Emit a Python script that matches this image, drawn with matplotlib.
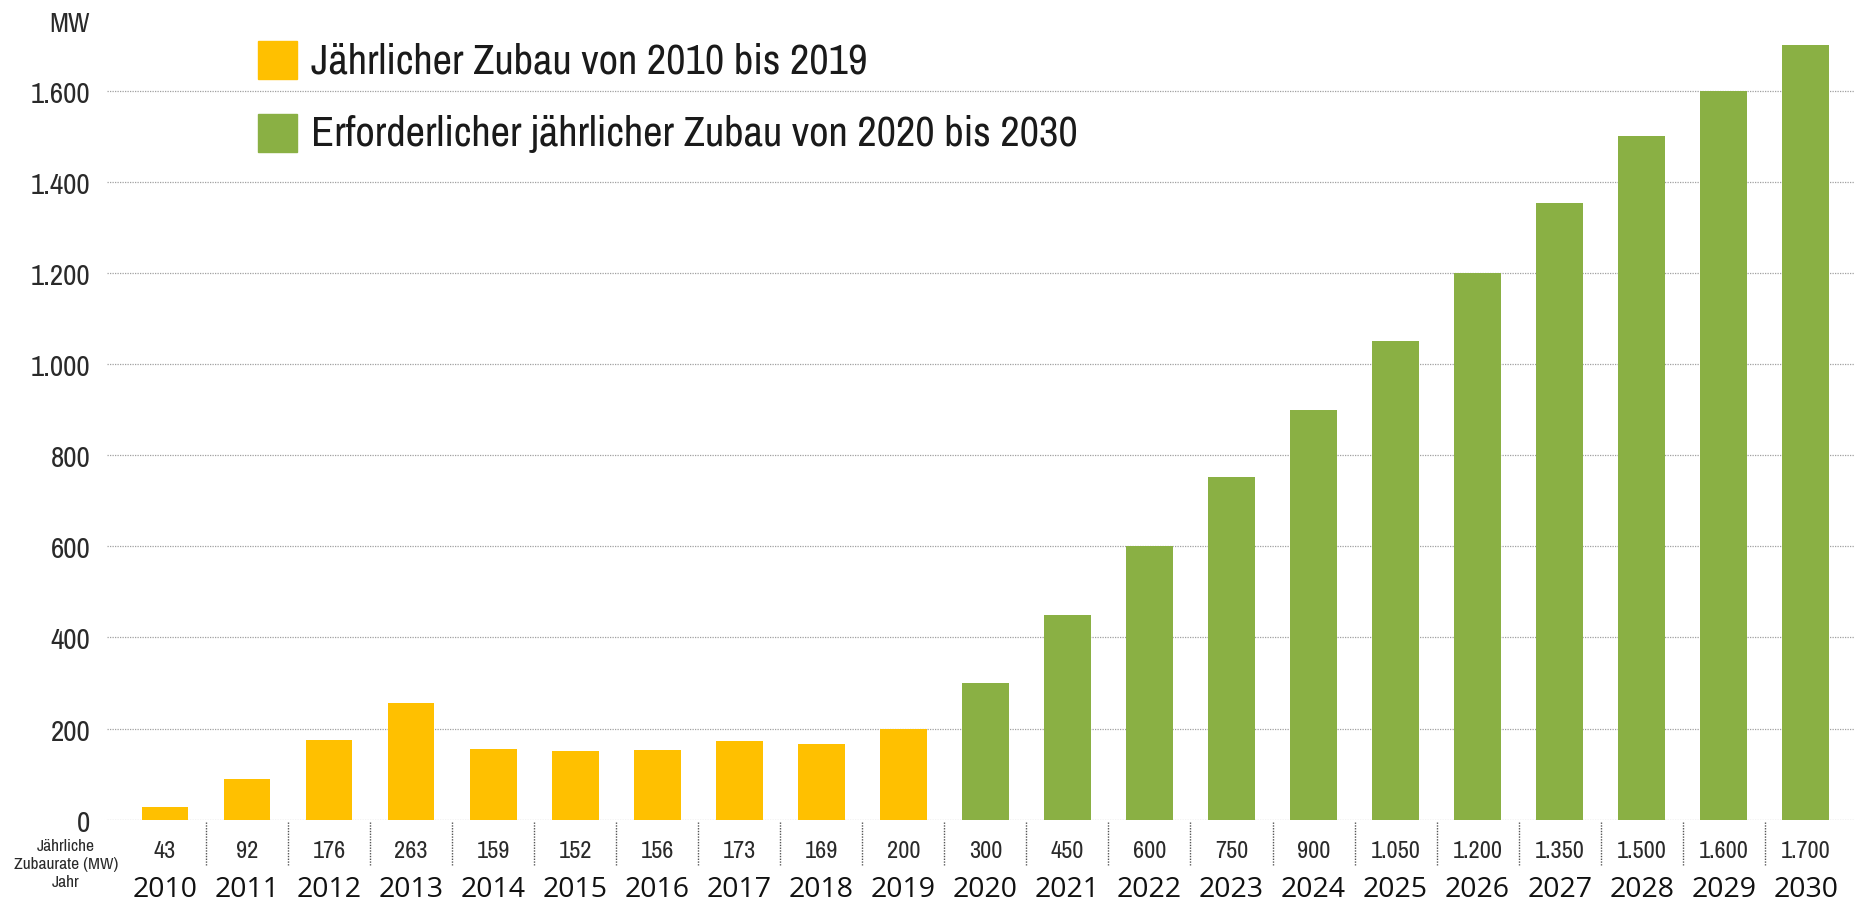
import matplotlib
matplotlib.use("Agg")
import matplotlib.pyplot as plt
import matplotlib.transforms as mtransforms
from matplotlib import font_manager as fm

# ---- data ----
years = ["2010", "2011", "2012", "2013", "2014", "2015", "2016", "2017", "2018", "2019",
         "2020", "2021", "2022", "2023", "2024", "2025", "2026", "2027", "2028", "2029", "2030"]
bar_mw = [28, 89, 174, 256, 155, 150, 153, 172, 166, 200,
          300, 450, 600, 753, 899, 1050, 1200, 1353, 1500, 1600, 1700]
table_labels = ["43", "92", "176", "263", "159", "152", "156", "173", "169", "200",
                "300", "450", "600", "750", "900", "1.050", "1.200", "1.350", "1.500", "1.600", "1.700"]
n_hist = 10
yticks = [0, 200, 400, 600, 800, 1000, 1200, 1400, 1600]
ytick_labels = ["0", "200", "400", "600", "800", "1.000", "1.200", "1.400", "1.600"]
legend_labels = ["Jährlicher Zubau von 2010 bis 2019",
                 "Erforderlicher jährlicher Zubau von 2020 bis 2030"]

ORANGE = "#FFC000"
GREEN = "#8AB044"

# find a condensed font if one is installed
cond = None
for f in fm.fontManager.ttflist:
    if "Narrow" in f.name and f.style == "normal" and f.weight in (400, "normal", "regular"):
        cond = dict(family=f.name, stretch="normal")
        break
if cond is None:
    for f in fm.fontManager.ttflist:
        if f.name == "DejaVu Sans" and str(f.stretch) in ("condensed", "semi-condensed") \
                and f.style == "normal":
            cond = dict(family="DejaVu Sans", stretch="condensed")
            break
if cond is None:
    cond = dict(family="Liberation Sans", stretch="normal")
CONDENSED = cond["family"] != "Liberation Sans"
nf = dict(fontfamily=cond["family"], fontstretch=cond["stretch"])

names = {f.name for f in fm.fontManager.ttflist}
year_font = "Open Sans" if "Open Sans" in names else "DejaVu Sans"

W, H = 1855, 903
fig = plt.figure(figsize=(W / 100, H / 100), dpi=100)

def fx(px):
    return px / W

def fy(py):
    return 1 - py / H

y0_px = 820.7
px_per_mw = 0.4556
ymax = 1790
ax_h = ymax * px_per_mw
ax_left = 107
ax = fig.add_axes([fx(ax_left), fy(y0_px), 1 - fx(ax_left), ax_h / H])

x = list(range(len(years)))
colors = [ORANGE if i < n_hist else GREEN for i in x]
ax.bar(x, bar_mw, width=0.57, color=colors, zorder=3)

s_tick = 21 if CONDENSED else 18
s_val = 17.5 if CONDENSED else 15.5
s_leg = 30.5 if CONDENSED else 25
s_small = 12.5 if CONDENSED else 11.5
s_mw = 20 if CONDENSED else 17

ax.set_xlim(-0.707, 20.6)
ax.set_ylim(0, ymax)
ax.set_yticks(yticks)
ax.set_yticklabels(ytick_labels, fontsize=s_tick, color="#2a2a2a", **nf)
ax.tick_params(axis="y", length=0, pad=12)
ax.set_xticks([])
for s in ax.spines.values():
    s.set_visible(False)
ax.grid(axis="y", color="#a0a0a0", linestyle=(0, (1, 1)), linewidth=0.9, zorder=0)

# table below
trans = mtransforms.blended_transform_factory(ax.transData, fig.transFigure)
for i, (lab, yr) in enumerate(zip(table_labels, years)):
    ax.text(i, fy(852), lab, transform=trans, ha="center", va="center",
            fontsize=s_val, color="#2a2a2a", **nf)
    ax.text(i, fy(890), yr, transform=trans, ha="center", va="center",
            fontfamily=year_font, fontsize=20.5, color="#111111")
for i in range(len(years) - 1):
    ax.plot([i + 0.5, i + 0.5], [fy(823), fy(866)], transform=trans,
            color="#555555", linestyle=(0, (1, 1)), linewidth=1.0, clip_on=False)

for yy, t in [(847, "Jährliche"), (865, "Zubaurate (MW)"), (883, "Jahr")]:
    fig.text(fx(66), fy(yy), t, ha="center", va="center",
             fontsize=s_small, color="#2a2a2a", **nf)

fig.text(fx(90), fy(25), "MW", ha="right", va="center",
         fontsize=s_mw, color="#2a2a2a", **nf)

# legend
for (ytop, col, lab) in [(42, ORANGE, legend_labels[0]), (115, GREEN, legend_labels[1])]:
    fig.patches.append(plt.Rectangle((fx(258), fy(ytop + 38)), fx(39), 38 / H,
                                     transform=fig.transFigure, color=col, zorder=5))
    fig.text(fx(311), fy(ytop + 19), lab, ha="left", va="center",
             fontsize=s_leg, color="#1a1a1a", **nf)

fig.savefig("out.png", dpi=100, facecolor="white")
